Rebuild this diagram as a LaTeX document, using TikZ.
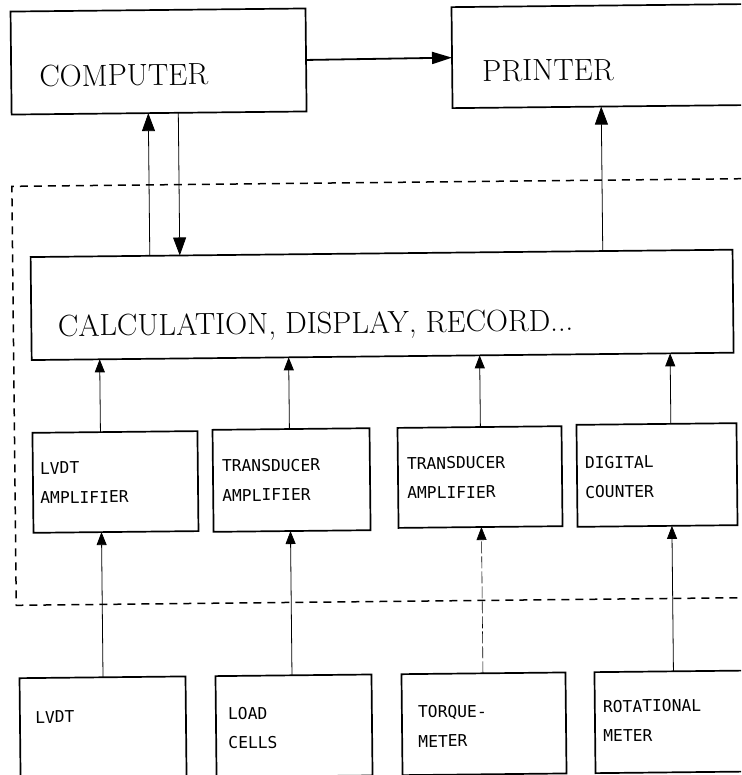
\documentclass[tikz,border=0pt]{standalone}
\usepackage{fontspec}
\newfontfamily\plotfont{DejaVu Sans Mono}
\usetikzlibrary{arrows.meta,calc}
\begin{document}
\begin{tikzpicture}[x=1pt,y=-1pt,
  boxnode/.style={draw,line width=1.7pt,inner sep=0pt,outer sep=0pt,transform shape},
  seriftext/.style={inner sep=0pt,anchor=base west,font=\fontsize{30.5}{30.5}\selectfont,transform shape},
  plottext/.style={inner sep=0pt,anchor=west,align=left,font=\plotfont\fontsize{16.3}{29.5}\selectfont,transform shape},
  link/.style={line width=0.8pt},
  bigtip/.style={-{Triangle[width=13pt,length=18pt]}},
  smalltip/.style={-{Triangle[width=10pt,length=13pt]}},
  htip/.style={-{Triangle[width=12pt,length=20pt]}},
  dashline/.style={line width=1.5pt,dash pattern=on 8pt off 6pt},
  faintline/.style={line width=0.6pt,dash pattern=on 12pt off 3pt}]
\useasboundingbox (0,0) rectangle (741,775);
\fill[white] (0,0) rectangle (741,775);
\clip (0,0) rectangle (741,775);
\begin{scope}[rotate around={0.6:(370,390)}]
% boxes
\node[boxnode,minimum width=295pt,minimum height=103pt] (computer) at (162,59.3) {};
\node[boxnode,minimum width=344.5pt,minimum height=101pt] (printer) at (627.75,58.5) {};
\node[boxnode,minimum width=702pt,minimum height=103pt] (calc) at (383,305) {};
\node[boxnode,minimum width=165pt,minimum height=100pt] (amp1) at (114.5,479.3) {};
\node[boxnode,minimum width=157pt,minimum height=102pt] (amp2) at (290.6,479.2) {};
\node[boxnode,minimum width=164pt,minimum height=100pt] (amp3) at (479.1,478.2) {};
\node[boxnode,minimum width=160pt,minimum height=102pt] (amp4) at (656.1,478) {};
\node[boxnode,minimum width=166pt,minimum height=101pt] (sen1) at (99.5,725) {};
\node[boxnode,minimum width=156pt,minimum height=101pt] (sen2) at (290.5,725) {};
\node[boxnode,minimum width=164pt,minimum height=101pt] (sen3) at (480.5,725) {};
\node[boxnode,minimum width=208.5pt,minimum height=101pt] (sen4) at (695.75,725) {};
% texts
\node[seriftext] (tcomp) at (42.5,83) {COMPUTER};
\node[seriftext] (tprint) at (485.5,82.5) {PRINTER};
\node[seriftext] (tcalc) at (58.5,333) {CALCULATION, DISPLAY, RECORD...};
\node[plottext] (ta1) at (39,479.5) {LVDT\\AMPLIFIER};
\node[plottext] (ta2) at (221,479) {TRANSDUCER\\AMPLIFIER};
\node[plottext] (ta3) at (406,478.4) {TRANSDUCER\\AMPLIFIER};
\node[plottext] (ta4) at (584,479.6) {DIGITAL\\COUNTER};
\node[plottext] (ts1) at (31.6,713.7) {LVDT};
\node[plottext] (ts2) at (224.5,726.8) {LOAD\\CELLS};
\node[plottext] (ts3) at (414.5,727) {TORQUE-\\METER};
\node[plottext] (ts4) at (599.5,723.5) {ROTATIONAL\\METER};
% dashed boundary
\draw[dashline] (800,182.6) -- (14,182.6) -- (14,601.6) -- (800,601.6);
% connectors
\draw[line width=1.8pt,htip] (computer.east) -- (printer.west);
\draw[link,bigtip] ($(calc.north west)!119.2pt!(calc.north east)$) -- ($(computer.south west)!136.7pt!(computer.south east)$);
\draw[link,bigtip] ($(computer.south west)!166.7pt!(computer.south east)$) -- ($(calc.north west)!149.2pt!(calc.north east)$);
\draw[link,bigtip] ($(calc.north west)!572.2pt!(calc.north east)$) -- ($(printer.south west)!148.7pt!(printer.south east)$);
\draw[link,smalltip] ($(amp1.north west)!68pt!(amp1.north east)$) -- ($(calc.south west)!68pt!(calc.south east)$);
\draw[link,smalltip] ($(amp2.north west)!76.9pt!(amp2.north east)$) -- ($(calc.south west)!257pt!(calc.south east)$);
\draw[link,smalltip] ($(amp3.north west)!82.9pt!(amp3.north east)$) -- ($(calc.south west)!448pt!(calc.south east)$);
\draw[link,smalltip] ($(amp4.north west)!94.4pt!(amp4.north east)$) -- ($(calc.south west)!638.5pt!(calc.south east)$);
\draw[link,smalltip] ($(sen1.north west)!83.5pt!(sen1.north east)$) -- ($(amp1.south west)!68pt!(amp1.south east)$);
\draw[link,smalltip] ($(sen2.north west)!76.5pt!(sen2.north east)$) -- ($(amp2.south west)!76.9pt!(amp2.south east)$);
\draw[faintline,smalltip] ($(sen3.north west)!81.5pt!(sen3.north east)$) -- ($(amp3.south west)!82.9pt!(amp3.south east)$);
\draw[link,smalltip] ($(sen4.north west)!79pt!(sen4.north east)$) -- ($(amp4.south west)!94.4pt!(amp4.south east)$);
\end{scope}
\end{tikzpicture}
\end{document}
